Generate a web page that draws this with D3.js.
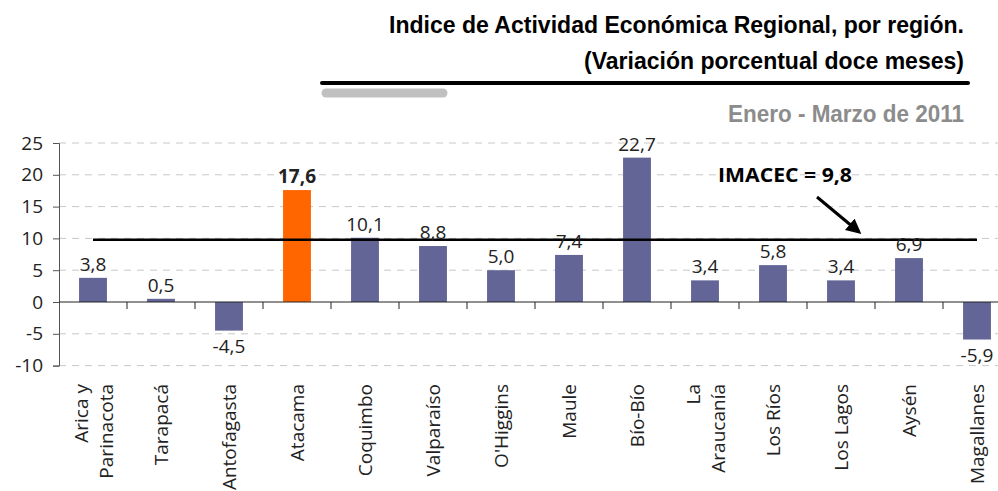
<!DOCTYPE html>
<html>
<head>
<meta charset="utf-8">
<script src="https://cdn.jsdelivr.net/npm/d3@7"></script>
<style>
  body { margin: 0; background: #fff; }
  svg { display: block; }
</style>
</head>
<body>
<svg id="chart" width="998" height="491"></svg>
<script>
// Data
const regions = [['Arica y', 'Parinacota'], ['Tarapacá'], ['Antofagasta'], ['Atacama'], ['Coquimbo'], ['Valparaíso'], ["O'Higgins"], ['Maule'], ['Bío-Bío'], ['La', 'Araucanía'], ['Los Ríos'], ['Los Lagos'], ['Aysén'], ['Magallanes']];
const values = [3.8, 0.5, -4.5, 17.6, 10.1, 8.8, 5.0, 7.4, 22.7, 3.4, 5.8, 3.4, 6.9, -5.9];
const highlight = 'Atacama';
const imacec = 9.8;
const yTicks = [-10, -5, 0, 5, 10, 15, 20, 25];

const svg = d3.select('#chart');
const labelFont = "'Open Sans', 'Noto Sans', sans-serif";
const titleFont = "'Liberation Sans Narrow', 'Arial Narrow', 'Liberation Sans', sans-serif";
const fmt = v => v.toFixed(1).replace('.', ',');

const x = d3.scaleBand()
  .domain(d3.range(regions.length))
  .range([59, 1011])
  .paddingInner(0.59)
  .paddingOuter(0.295);

const y = d3.scaleLinear()
  .domain([-10, 25])
  .range([365.6, 143]);

// Header (condensed look via textLength)
const header = svg.append('g');
const headText = (txt, yPos, len, size, color) => header.append('text')
    .attr('x', 964).attr('y', yPos)
    .attr('text-anchor', 'end')
    .attr('textLength', len)
    .attr('lengthAdjust', 'spacingAndGlyphs')
    .style('font-family', titleFont)
    .style('font-weight', 'bold')
    .style('font-size', size + 'px')
    .attr('fill', color)
    .text(txt);
headText('Indice de Actividad Económica Regional, por región.', 33, 575, 24, '#000');
headText('(Variación porcentual doce meses)', 69, 380, 24, '#000');
headText('Enero - Marzo de 2011', 122, 236, 24, '#8c8c8c');
header.append('line')
    .attr('x1', 322).attr('x2', 968)
    .attr('y1', 83).attr('y2', 83)
    .attr('stroke', '#000')
    .attr('stroke-width', 4)
    .attr('stroke-linecap', 'round');
header.append('line')
    .attr('x1', 326).attr('x2', 443)
    .attr('y1', 93).attr('y2', 93)
    .attr('stroke', '#c0c0c0')
    .attr('stroke-width', 9)
    .attr('stroke-linecap', 'round');

// Gridlines
svg.append('g')
  .selectAll('line')
  .data(yTicks.filter(t => t !== 0))
  .join('line')
    .attr('x1', 59).attr('x2', 998)
    .attr('y1', d => y(d)).attr('y2', d => y(d))
    .attr('stroke', '#c8c8c8')
    .attr('stroke-dasharray', '7,6');

// Y axis
const yAxis = svg.append('g')
  .attr('transform', 'translate(59,0)')
  .call(d3.axisLeft(y).tickValues(yTicks).tickSize(6).tickPadding(10).tickFormat(d => d));
yAxis.select('.domain').attr('stroke', '#555');
yAxis.selectAll('.tick line').attr('stroke', '#555');
yAxis.selectAll('text')
  .style('font-family', labelFont)
  .style('font-size', '19px')
  .attr('fill', '#222');

// Bars
svg.append('g')
  .selectAll('rect')
  .data(values)
  .join('rect')
    .attr('x', (d, i) => x(i))
    .attr('width', x.bandwidth())
    .attr('y', d => y(Math.max(0, d)))
    .attr('height', d => Math.abs(y(d) - y(0)))
    .attr('fill', (d, i) => regions[i][0] === highlight ? '#ff6600' : '#636597');

// Zero axis with category ticks
svg.append('line')
  .attr('x1', 59).attr('x2', 998)
  .attr('y1', y(0)).attr('y2', y(0))
  .attr('stroke', '#222')
  .attr('stroke-width', 1.2);
svg.append('g')
  .selectAll('line')
  .data(d3.range(1, regions.length))
  .join('line')
    .attr('x1', i => x(i) - x.step() * x.paddingInner() / 2)
    .attr('x2', i => x(i) - x.step() * x.paddingInner() / 2)
    .attr('y1', y(0)).attr('y2', y(0) + 7)
    .attr('stroke', '#222');

// IMACEC line
svg.append('line')
  .attr('x1', x(0) + x.bandwidth() / 2)
  .attr('x2', x(regions.length - 1) + x.bandwidth() / 2)
  .attr('y1', y(imacec)).attr('y2', y(imacec))
  .attr('stroke', '#000')
  .attr('stroke-width', 2.5);

// Value labels
svg.append('g')
  .selectAll('text')
  .data(values)
  .join('text')
    .attr('x', (d, i) => x(i) + x.bandwidth() / 2)
    .attr('y', d => d >= 0 ? y(d) - 7 : y(d) + 22)
    .attr('text-anchor', 'middle')
    .style('font-family', labelFont)
    .style('font-size', '19px')
    .style('font-weight', (d, i) => regions[i][0] === highlight ? 'bold' : 'normal')
    .attr('fill', '#222')
    .text(fmt);

// Annotation
svg.append('text')
  .attr('x', 718).attr('y', 182)
  .attr('textLength', 134)
  .attr('lengthAdjust', 'spacingAndGlyphs')
  .style('font-family', labelFont)
  .style('font-weight', 'bold')
  .style('font-size', '19px')
  .text('IMACEC = ' + fmt(imacec));
svg.append('defs').append('marker')
    .attr('id', 'arrow')
    .attr('viewBox', '0 0 10 10')
    .attr('refX', 8).attr('refY', 5)
    .attr('markerWidth', 5).attr('markerHeight', 5)
    .attr('orient', 'auto')
  .append('path')
    .attr('d', 'M0,0 L10,5 L0,10 z')
    .attr('fill', '#000');
svg.append('line')
  .attr('x1', 817).attr('y1', 197)
  .attr('x2', 859).attr('y2', 232)
  .attr('stroke', '#000')
  .attr('stroke-width', 3)
  .attr('marker-end', 'url(#arrow)');

// Category labels (rotated)
const catLabels = svg.append('g')
  .selectAll('text')
  .data(regions)
  .join('text')
    .attr('transform', (d, i) => `translate(${x(i) + x.bandwidth() / 2},384) rotate(-90)`)
    .attr('text-anchor', 'end')
    .style('font-family', labelFont)
    .style('font-size', '19px')
    .attr('fill', '#222');
catLabels.selectAll('tspan')
  .data(d => d.map((t, k) => ({ t, k, n: d.length })))
  .join('tspan')
    .attr('x', 0)
    .attr('y', d => (d.k - (d.n - 1) / 2) * 25 + 7)
    .text(d => d.t);
</script>
</body>
</html>
